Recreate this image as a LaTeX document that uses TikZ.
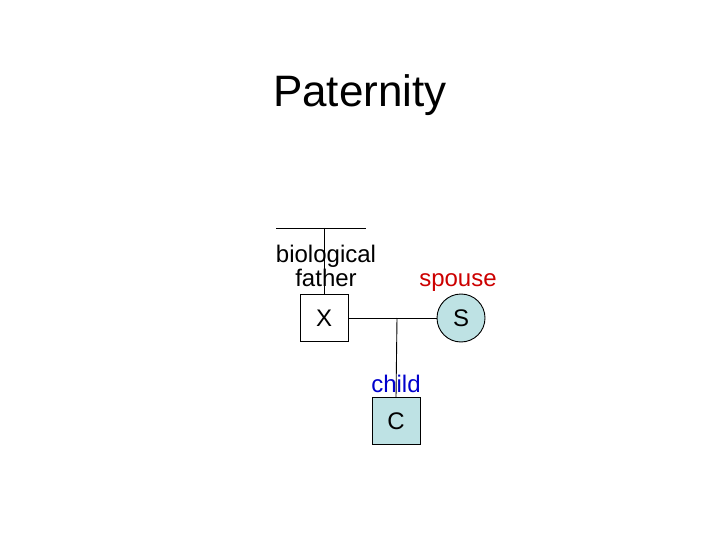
\documentclass[tikz,border=0pt]{standalone}
\usepackage{fontspec}
\setmainfont{Liberation Sans}
\definecolor{fillc}{RGB}{190,226,228}
\definecolor{lblred}{RGB}{204,0,0}
\definecolor{lblblue}{RGB}{0,0,204}
\begin{document}
\begin{tikzpicture}[x=1pt,y=-1pt,line width=0.9pt,
  lbl/.style={font=\fontsize{24}{24}\selectfont,align=center,inner sep=0pt},
  sq/.style={draw,minimum width=48pt,minimum height=47pt,inner sep=0pt,font=\fontsize{24}{24}\selectfont},
  ci/.style={draw,circle,minimum size=48pt,inner sep=0pt,fill=fillc,font=\fontsize{24}{24}\selectfont}]
\useasboundingbox (0,0) rectangle (720,540);
\node[font=\fontsize{44}{48}\selectfont] (title) at (360,95) {Paternity};
\coordinate (hl) at (276,228);
\coordinate (hr) at (366,228);
\coordinate (ht) at (324,228);
\draw (hl) -- (hr);
\node[sq] (x) at (324,318) {X};
\draw (ht) -- (x.north);
\node[lbl] (bf) at (326,266) {biological\\father};
\node[ci] (s) at (461,318) {S};
\node[lbl,text=lblred] (sp) at (458,283) {spouse};
\draw (x.east) -- (s.west);
\coordinate (mid) at (397,318);
\node[sq,fill=fillc] (c) at (396,421) {C};
\draw (mid) -- (c.north);
\node[lbl,text=lblblue] (ch) at (396,384) {child};
\end{tikzpicture}
\end{document}
